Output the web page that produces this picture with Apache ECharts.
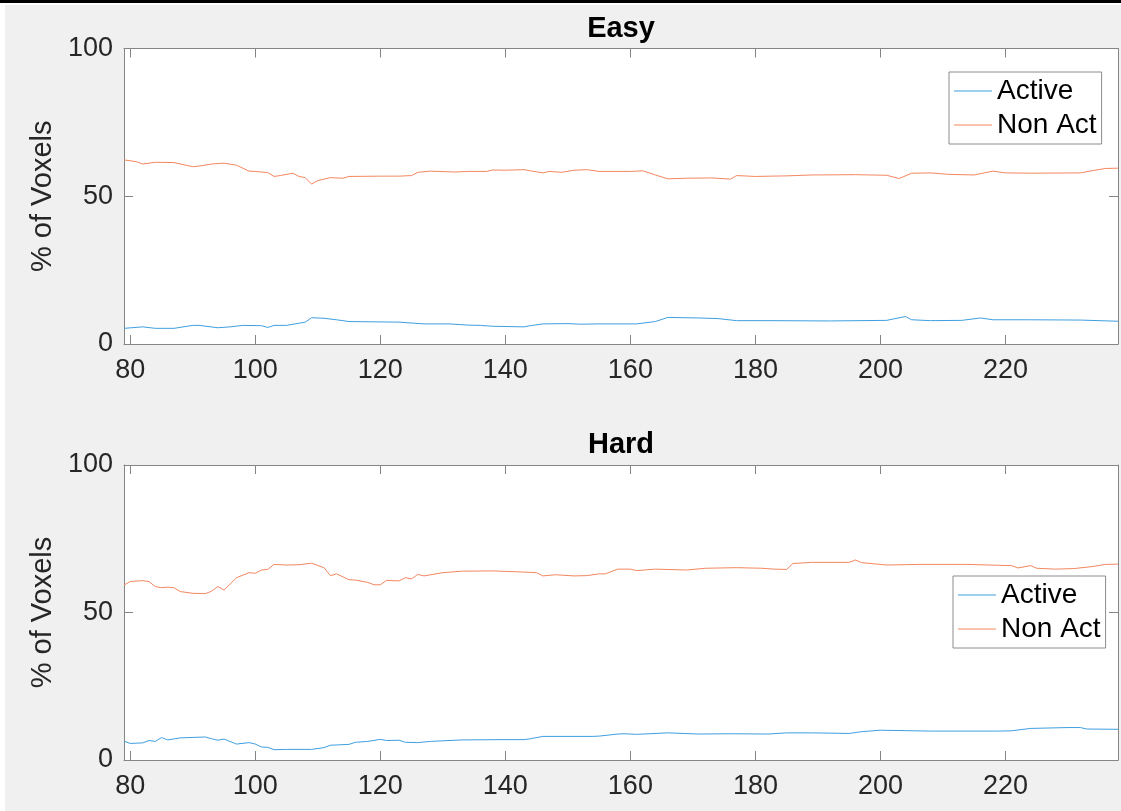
<!DOCTYPE html>
<html>
<head>
<meta charset="utf-8">
<script src="https://cdn.jsdelivr.net/npm/echarts@6/dist/echarts.min.js"></script>
<style>
  html, body { margin: 0; padding: 0; background: #ffffff; }
  #fig { position: absolute; left: 5px; top: 5px; width: 1116px; height: 806px; background: #f0f0f0; }
  #topline { position: absolute; left: 0; top: 0; width: 1121px; height: 3px; background: #000; }
  #chart { position: absolute; left: 0; top: 0; width: 1121px; height: 811px; }
</style>
</head>
<body>
<div id="fig"></div>
<div id="topline"></div>
<div id="chart"></div>
<script>
// ---- data ----
const titles = ['Easy', 'Hard'];
const seriesNames = ['Active', 'Non Act'];
const xTicks = [80, 100, 120, 140, 160, 180, 200, 220];
const yTicks = [0, 50, 100];

const easyActiveX = [79,82,84,87,90,91,94,96,98,101,102,103,105,108,109,111,113,115,123,127,131,134,136,138,143,144,146,150,152,155,161,164,166,171,174,177,182,192,201,204,205,208,213,216,218,224,232,238];
const easyActiveY = [5.3,5.8,5.3,5.3,6.3,6.3,5.5,5.8,6.3,6.2,5.6,6.3,6.3,7.4,8.9,8.7,8.2,7.6,7.4,6.8,6.8,6.4,6.3,6.0,5.8,6.2,6.8,6.9,6.7,6.8,6.8,7.6,9.0,8.8,8.6,7.9,7.9,7.8,8.0,9.3,8.2,7.9,8.0,8.8,8.2,8.2,8.1,7.7];

const easyNonX = [79,81,82,84,87,90,91,93,95,97,99,100,102,103,104,106,107,108,109,110,112,114,115,120,123,125,126,128,132,134,137,138,140,143,144,146,147,149,151,153,155,160,162,164,166,169,173,176,177,180,185,189,196,201,203,205,208,211,215,218,220,224,232,234,236,238];
const easyNonY = [62.3,61.7,60.9,61.5,61.4,60.0,60.2,60.9,61.2,60.5,58.5,58.4,58.0,56.7,57.0,57.8,56.7,56.3,54.1,55.3,56.3,56.1,56.7,56.8,56.8,57.0,58.1,58.5,58.2,58.4,58.4,58.9,58.8,59.0,58.6,57.9,58.4,58.1,58.8,59.0,58.4,58.4,58.6,57.2,55.9,56.1,56.2,55.8,57.0,56.7,56.9,57.2,57.3,57.1,56.0,57.8,57.9,57.4,57.2,58.5,57.9,57.8,57.9,58.7,59.4,59.5];

const hardActiveX = [79,80,82,83,84,85,86,88,92,93,94,95,97,99,100,101,102,103,105,109,111,112,115,116,118,120,121,123,124,126,128,133,139,143,144,146,154,155,158,159,161,166,171,176,182,185,189,195,197,200,208,219,221,224,230,232,233,238];
const hardActiveY = [6.4,5.6,5.8,6.6,6.3,7.6,6.8,7.5,7.8,7.2,6.7,7.1,5.4,5.9,5.4,4.4,4.3,3.5,3.6,3.6,4.2,5.0,5.3,6.0,6.3,7.0,6.6,6.7,6.0,5.9,6.3,6.8,6.9,6.9,7.2,8.0,8.0,8.1,8.8,8.9,8.7,9.2,8.8,8.9,8.8,9.2,9.2,9.0,9.6,10.1,9.8,9.8,9.9,10.7,11.0,11.0,10.5,10.4];

const hardNonX = [79,80,82,83,84,85,86,87,88,90,92,93,94,95,97,99,100,101,102,103,105,107,109,111,112,113,115,116,118,119,120,121,123,124,125,126,127,130,133,138,143,145,146,148,151,153,155,156,158,160,161,164,169,172,177,181,183,185,186,189,195,196,197,201,206,214,219,221,222,224,225,228,231,234,236,238];
const hardNonY = [59.3,60.5,60.8,60.5,58.8,58.4,58.6,58.4,57.1,56.5,56.4,57.2,58.8,57.6,61.8,63.5,63.3,64.4,64.6,66.3,66.1,66.2,66.7,65.2,62.5,63.1,61.1,61.0,60.2,59.4,59.4,60.9,60.7,61.8,61.4,62.9,62.4,63.5,64.0,64.1,63.7,63.5,62.4,62.8,62.4,62.5,63.1,63.1,64.7,64.7,64.2,64.7,64.4,65.0,65.2,65.0,64.7,64.6,66.6,67.0,67.0,67.8,66.9,66.1,66.3,66.3,66.0,65.9,65.1,65.9,65.0,64.7,64.9,65.6,66.3,66.4];

// ---- styling ----
const FONT = '"Liberation Sans", Arial, Helvetica, sans-serif';
const BLUE = '#3f9fe0';
const ORANGE = '#f4875f';
const AXIS = '#858585';
const TXT = '#262626';
const X_MIN = 79, X_MAX = 238;

const pairs = (xs, ys) => xs.map((x, i) => [x, ys[i]]);

const grids = [
  { left: 124, top: 48.5, width: 994, height: 295.5 },
  { left: 124, top: 465, width: 994, height: 295 }
];

function xAxes(g) {
  return [
    {
      gridIndex: g, type: 'value', min: X_MIN, max: X_MAX, position: 'bottom',
      axisLine: { show: true, onZero: false, lineStyle: { color: AXIS, width: 1 } },
      axisTick: { show: true, inside: true, length: 9, customValues: xTicks, lineStyle: { color: AXIS } },
      axisLabel: { show: true, customValues: xTicks, fontSize: 27, color: TXT, fontFamily: FONT, margin: 13 },
      splitLine: { show: false }
    },
    {
      gridIndex: g, type: 'value', min: X_MIN, max: X_MAX, position: 'top',
      axisLine: { show: true, onZero: false, lineStyle: { color: AXIS, width: 1 } },
      axisTick: { show: true, inside: true, length: 9, customValues: xTicks, lineStyle: { color: AXIS } },
      axisLabel: { show: false },
      splitLine: { show: false }
    }
  ];
}

function yAxes(g) {
  return [
    {
      gridIndex: g, type: 'value', min: 0, max: 100, interval: 50, position: 'left',
      name: '% of Voxels', nameLocation: 'middle', nameRotate: 90, nameGap: 63,
      nameTextStyle: { fontSize: 29, color: TXT, fontFamily: FONT },
      axisLine: { show: true, onZero: false, lineStyle: { color: AXIS, width: 1 } },
      axisTick: { show: true, inside: true, length: 9, lineStyle: { color: AXIS } },
      axisLabel: { show: true, fontSize: 27, color: TXT, fontFamily: FONT, margin: 11, customValues: yTicks },
      splitLine: { show: false }
    },
    {
      gridIndex: g, type: 'value', min: 0, max: 100, interval: 50, position: 'right',
      axisLine: { show: true, onZero: false, lineStyle: { color: AXIS, width: 1 } },
      axisTick: { show: true, inside: true, length: 9, lineStyle: { color: AXIS } },
      axisLabel: { show: false },
      splitLine: { show: false }
    }
  ];
}

function lineSeries(name, data, g, color) {
  return {
    name: name, type: 'line', xAxisIndex: g * 2, yAxisIndex: g * 2,
    data: data, showSymbol: false, symbol: 'none',
    lineStyle: { color: color, width: 1 }, itemStyle: { color: color },
    emphasis: { disabled: true }, z: 3
  };
}

function legend(left, top) {
  return {
    orient: 'vertical', left: left, top: top,
    data: seriesNames, icon: 'rect', itemWidth: 38, itemHeight: 1.2, itemGap: 4,
    padding: [4, 5, 4, 5], borderColor: '#8c8c8c', borderWidth: 1, backgroundColor: '#ffffff',
    textStyle: { fontSize: 28, color: '#000', fontFamily: FONT, lineHeight: 30 },
    selectedMode: false
  };
}

const chart = echarts.init(document.getElementById('chart'), null, { renderer: 'canvas' });
chart.setOption({
  animation: false,
  backgroundColor: 'transparent',
  title: [
    { text: titles[0], left: 621, top: 14, textAlign: 'center', padding: 0,
      textStyle: { fontSize: 29, fontWeight: 'bold', color: '#000', fontFamily: FONT } },
    { text: titles[1], left: 621, top: 430, textAlign: 'center', padding: 0,
      textStyle: { fontSize: 29, fontWeight: 'bold', color: '#000', fontFamily: FONT } }
  ],
  grid: grids.map(g => Object.assign({ show: true, backgroundColor: '#ffffff', borderWidth: 0 }, g)),
  xAxis: xAxes(0).concat(xAxes(1)),
  yAxis: yAxes(0).concat(yAxes(1)),
  legend: [legend(949, 72), legend(953, 576)],
  series: [
    lineSeries(seriesNames[0], pairs(easyActiveX, easyActiveY), 0, BLUE),
    lineSeries(seriesNames[1], pairs(easyNonX, easyNonY), 0, ORANGE),
    lineSeries(seriesNames[0], pairs(hardActiveX, hardActiveY), 1, BLUE),
    lineSeries(seriesNames[1], pairs(hardNonX, hardNonY), 1, ORANGE)
  ]
});
</script>
</body>
</html>
